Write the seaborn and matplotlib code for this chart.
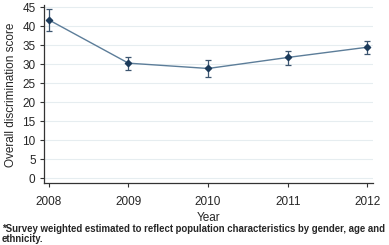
import matplotlib
matplotlib.use("Agg")
import matplotlib.pyplot as plt
import numpy as np
import pandas as pd
import seaborn as sns

years = [2008, 2009, 2010, 2011, 2012]
score = [41.7, 30.3, 28.9, 31.8, 34.5]
ci_low = [38.8, 28.5, 26.6, 29.8, 32.8]
ci_high = [44.6, 31.8, 31.1, 33.6, 36.0]

df = pd.DataFrame({'year': years, 'score': score, 'lo': ci_low, 'hi': ci_high})

sns.set_theme(style="white")
plt.rcParams['font.family'] = ['Liberation Sans', 'DejaVu Sans']

fig = plt.figure(figsize=(3.89, 2.45), dpi=100)
ax = fig.add_axes([0.113, 0.252, 0.846, 0.726])

for v in range(0, 50, 5):
    ax.axhline(v, color='#e6edf0', lw=0.8, zorder=0)

sns.lineplot(data=df, x='year', y='score', ax=ax, color='#5c7d99', lw=1.0, zorder=2)
ax.errorbar(df['year'], df['score'],
            yerr=[df['score'] - df['lo'], df['hi'] - df['score']],
            fmt='none', ecolor='#3d5670', elinewidth=0.9, capsize=2.2, capthick=0.9, zorder=3)
ax.scatter(df['year'], df['score'], marker='D', s=10, color='#1b3a5a', zorder=4)

ax.set_xlim(2007.94, 2012.07)
ax.set_ylim(-1.3, 45.5)
ax.set_xticks(years)
ax.set_yticks(range(0, 50, 5))
ax.tick_params(axis='both', labelsize=8.5, length=3, width=0.8, color='#333333', direction='out',
               bottom=True, left=True)
ax.tick_params(axis='x', pad=6)
ax.tick_params(axis='y', pad=3)
for s in ['top', 'right']:
    ax.spines[s].set_visible(False)
for s in ['left', 'bottom']:
    ax.spines[s].set_color('#333333')
    ax.spines[s].set_linewidth(0.9)

ax.set_xlabel('Year', fontsize=8.5, labelpad=3)
ax.set_ylabel('Overall discrimination score', fontsize=8.5, labelpad=4)

fig.text(0.004, 0.045, '*Survey weighted estimated to reflect population characteristics by gender, age and\nethnicity.',
         fontsize=6.9, fontweight='bold', va='center', ha='left', linespacing=1.0)

fig.savefig('out.png', dpi=100)
